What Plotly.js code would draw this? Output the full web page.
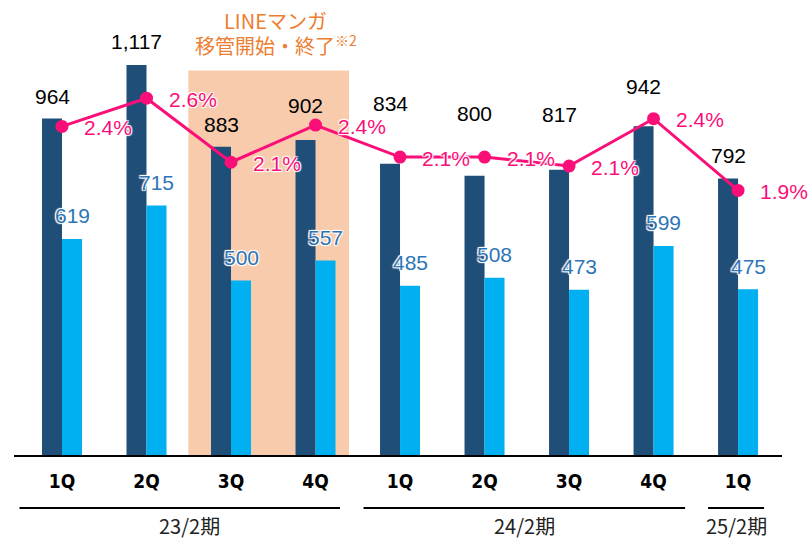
<!DOCTYPE html>
<html>
<head>
<meta charset="utf-8">
<script src="https://cdn.plot.ly/plotly-3.0.1.min.js"></script>
<style>
  html, body { margin: 0; padding: 0; background: #fff; }
  #chart { width: 811px; height: 541px; }
</style>
</head>
<body>
<div id="chart"></div>
<script>
// 四半期ラベル
const QUARTERS = ["1Q", "2Q", "3Q", "4Q", "1Q", "2Q", "3Q", "4Q", "1Q"];
// 濃い棒 / 薄い棒 / 比率(%)
const DARK_VALUES = [964, 1117, 883, 902, 834, 800, 817, 942, 792];
const LIGHT_VALUES = [619, 715, 500, 557, 485, 508, 473, 599, 475];
const PCT_VALUES = [2.38, 2.60, 2.10, 2.39, 2.14, 2.14, 2.07, 2.44, 1.88];
// 期のラベル
const PERIODS = ["23/2期", "24/2期", "25/2期"];

// 濃い棒ラベルの上方向のずらし(px)
const DARK_LABEL_SHIFT = [22, 24, 22, 35, 60, 62, 55, 40, 23];

const X_IDX = QUARTERS.map((q, i) => i);

const FONT = "Liberation Sans, Arial, sans-serif";
const DARK = "#1F4E79";
const LIGHT = "#00B0F0";
const PINK = "#FA0F78";
const LIGHT_TXT = "#2E75B6";
const HALO = "1px 1px 1px #fff, -1px -1px 1px #fff, 1px -1px 1px #fff, -1px 1px 1px #fff";
const OFF = 10 / 84.5; // 棒の中心のずれ

const data = [
  {
    type: "bar", x: X_IDX, y: DARK_VALUES,
    marker: {color: DARK}, hoverinfo: "skip"
  },
  {
    type: "bar", x: X_IDX, y: LIGHT_VALUES,
    marker: {color: LIGHT}, hoverinfo: "skip"
  },
  {
    type: "scatter", mode: "lines+markers", x: X_IDX, y: PCT_VALUES, yaxis: "y2",
    line: {color: PINK, width: 3},
    marker: {color: PINK, size: 13},
    hoverinfo: "skip", cliponaxis: false
  }
];

const annotations = [];
DARK_VALUES.forEach((v, i) => {
  annotations.push({
    x: i - OFF, y: v, xref: "x", yref: "y", yshift: DARK_LABEL_SHIFT[i],
    text: v.toLocaleString("en-US"), showarrow: false, yanchor: "middle",
    font: {family: FONT, size: 21, color: "#000"}
  });
});
LIGHT_VALUES.forEach((v, i) => {
  annotations.push({
    x: i + OFF, y: v, xref: "x", yref: "y", yshift: 23,
    text: String(v), showarrow: false, yanchor: "middle",
    font: {family: FONT, size: 21, color: LIGHT_TXT, shadow: HALO}
  });
});
PCT_VALUES.forEach((v, i) => {
  annotations.push({
    x: i, y: v, xref: "x", yref: "y2", xanchor: "left", xshift: 20, yshift: -1,
    text: v.toFixed(1) + "%", showarrow: false, yanchor: "middle",
    font: {family: FONT, size: 21, color: PINK, shadow: HALO}
  });
});

// 期ラベルと下線
const PERIOD_SPANS = [[-0.503, 3.29], [3.568, 7.373], [7.645, 8.308]];
const PERIOD_LABEL_X = [1.51, 5.467, 7.976];
const shapes = [
  {type: "rect", layer: "below", xref: "x", yref: "y",
   x0: 1.495, x1: 3.396, y0: 0, y1: 1101,
   fillcolor: "#F8CBAD", line: {width: 0}}
];
PERIODS.forEach((p, i) => {
  const [a, b] = PERIOD_SPANS[i];
  shapes.push({type: "line", xref: "x", yref: "paper", x0: a, x1: b, y0: -0.122, y1: -0.122,
               line: {color: "#000", width: 2}});
  annotations.push({
    x: PERIOD_LABEL_X[i], y: -0.163, xref: "x", yref: "paper", yanchor: "middle",
    text: p, showarrow: false,
    font: {family: "Noto Sans CJK JP", size: 20, color: "#222"}
  });
});

// 見出し(2行)
const TITLE_FONT = {family: "Noto Sans CJK JP", size: 20, color: "#ED7D31"};
annotations.push({
  x: 2.53, y: 1, xref: "x", yref: "paper", yanchor: "middle",
  text: "LINEマンガ", showarrow: false, font: TITLE_FONT
});
annotations.push({
  x: 2.53, y: 0.943, xref: "x", yref: "paper", yanchor: "middle",
  text: "移管開始・終了<sup>※2</sup>", showarrow: false, font: TITLE_FONT
});

const layout = {
  width: 811, height: 541,
  margin: {l: 14, r: 29, t: 20, b: 86},
  paper_bgcolor: "#fff", plot_bgcolor: "rgba(0,0,0,0)",
  font: {family: FONT},
  showlegend: false,
  barmode: "group", bargap: 0.5266, bargroupgap: 0,
  xaxis: {
    range: [-0.568, 8.52], tickvals: X_IDX, ticktext: QUARTERS,
    showline: true, linecolor: "#000", linewidth: 2,
    showgrid: false, zeroline: false,
    ticks: "outside", ticklen: 8, tickcolor: "rgba(0,0,0,0)",
    tickfont: {family: "DejaVu Sans Condensed", size: 19, color: "#000", weight: "bold"},
    fixedrange: true
  },
  yaxis: {range: [0, 1246], visible: false, fixedrange: true},
  yaxis2: {range: [-0.187, 3.211], overlaying: "y", visible: false, fixedrange: true},
  shapes: shapes,
  annotations: annotations
};

Plotly.newPlot("chart", data, layout, {displayModeBar: false, staticPlot: true});
</script>
</body>
</html>
